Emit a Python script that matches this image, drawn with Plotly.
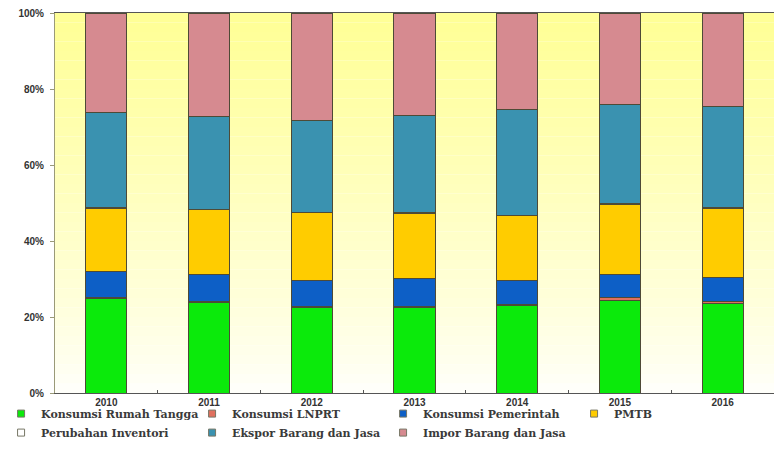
import plotly.graph_objects as go

years = ["2010", "2011", "2012", "2013", "2014", "2015", "2016"]

# Share of GDP by expenditure component (%), stacked bottom to top
konsumsi_rt = [24.9, 23.8, 22.4, 22.4, 22.9, 24.3, 23.6]
konsumsi_lnprt = [0.3, 0.3, 0.3, 0.3, 0.3, 0.8, 0.6]
konsumsi_pem = [6.7, 7.0, 6.9, 7.5, 6.3, 6.2, 6.1]
pmtb = [16.7, 17.1, 17.8, 17.1, 17.1, 18.3, 18.3]
inventori = [0.2, 0.2, 0.2, 0.2, 0.2, 0.2, 0.2]
ekspor = [25.0, 24.3, 24.0, 25.5, 27.8, 26.0, 26.5]
impor = [26.2, 27.3, 28.4, 27.0, 25.4, 24.2, 24.7]

y_ticks = [0, 20, 40, 60, 80, 100]
y_tick_labels = ["0%", "20%", "40%", "60%", "80%", "100%"]

series = [
    ("Konsumsi Rumah Tangga", konsumsi_rt, "#0BEA0B"),
    ("Konsumsi LNPRT", konsumsi_lnprt, "#E0705E"),
    ("Konsumsi Pemerintah", konsumsi_pem, "#0D5FC6"),
    ("PMTB", pmtb, "#FFCC00"),
    ("Perubahan Inventori", inventori, "#FFFFFF"),
    ("Ekspor Barang dan Jasa", ekspor, "#3A92B0"),
    ("Impor Barang dan Jasa", impor, "#D68A90"),
]

fig = go.Figure()
for name, vals, color in series:
    fig.add_trace(go.Bar(
        x=years, y=vals, name=name, legendgroup=name, showlegend=False,
        marker=dict(color=color, line=dict(color="#4E4A36", width=1)),
    ))
# Compact square legend keys, one per component
for name, vals, color in series:
    fig.add_trace(go.Scatter(
        x=[None], y=[None], mode="markers", name=name, legendgroup=name,
        marker=dict(symbol="square", size=7, color=color,
                    line=dict(color="#777766", width=1)),
        hoverinfo="skip",
    ))

# Vertical yellow-to-white gradient behind the plot area
top_rgb = (255, 255, 150)
bot_rgb = (255, 255, 250)
n_bands = 40
for i in range(n_bands):
    t = (i / (n_bands - 1)) ** 0.8
    r = round(bot_rgb[0] + (top_rgb[0] - bot_rgb[0]) * t)
    g = round(bot_rgb[1] + (top_rgb[1] - bot_rgb[1]) * t)
    b = round(bot_rgb[2] + (top_rgb[2] - bot_rgb[2]) * t)
    fig.add_shape(
        type="rect", xref="paper", yref="y", layer="below",
        x0=0, x1=1, y0=100 * i / n_bands, y1=100 * (i + 1) / n_bands,
        fillcolor=f"rgb({r},{g},{b})", line=dict(width=0),
    )

fig.update_layout(
    width=774, height=453,
    margin=dict(l=55, r=0, t=13, b=60),
    barmode="stack", bargap=0.6,
    paper_bgcolor="white", plot_bgcolor="white",
    font=dict(family="Liberation Sans, Arial, sans-serif", color="#333333"),
    showlegend=True,
    legend=dict(
        orientation="h", x=-0.075, xanchor="left", y=-0.016, yanchor="top",
        entrywidth=146, entrywidthmode="pixels",
        font=dict(family="DejaVu Serif, serif", size=11, color="#3a3a3a", weight="bold"),
        traceorder="normal", itemwidth=30,
        bgcolor="rgba(0,0,0,0)",
    ),
)
fig.update_xaxes(
    type="category", tickson="boundaries", range=[-0.5, 6.5],
    showline=True, linecolor="#555555", linewidth=1, mirror=True,
    ticks="inside", ticklen=3, tickcolor="#555555",
    tickfont=dict(family="Liberation Sans, Arial, sans-serif", size=10, color="#333333", weight="bold"),
    showgrid=False,
)
fig.update_yaxes(
    range=[0, 100], tickmode="array", tickvals=y_ticks, ticktext=y_tick_labels,
    showline=True, linecolor="#9A9A78", linewidth=1,
    ticks="outside", ticklen=4, tickcolor="#9A9A78", ticklabelstandoff=4,
    tickfont=dict(family="Liberation Sans, Arial, sans-serif", size=10, color="#333333", weight="bold"),
    showgrid=False, zeroline=False,
)

fig.write_html("out.html")
